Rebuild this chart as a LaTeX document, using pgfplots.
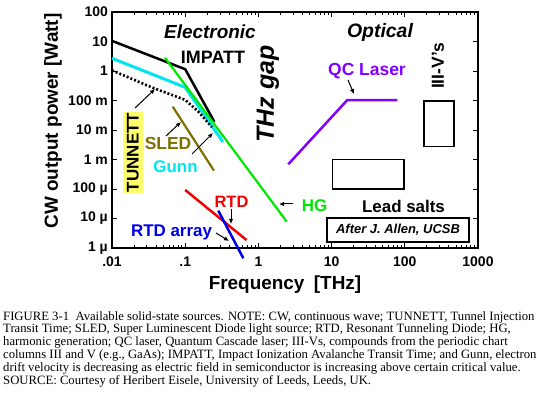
\documentclass[border=0pt]{standalone}
\usepackage{fontspec}
\setmainfont{Liberation Serif}
\setsansfont{Liberation Sans}
\usepackage{pgfplots}
\pgfplotsset{compat=1.18}
\usetikzlibrary{arrows.meta}
\definecolor{gunn}{RGB}{0,229,238}
\definecolor{hg}{RGB}{0,232,0}
\definecolor{sled}{RGB}{128,112,0}
\definecolor{rtd}{RGB}{240,0,0}
\definecolor{rtda}{RGB}{0,0,230}
\definecolor{qc}{RGB}{128,0,255}
\definecolor{tyel}{RGB}{255,255,110}
\newcommand{\fs}[1]{\fontsize{#1}{#1}\selectfont\sffamily\bfseries}
\begin{document}
\begin{tikzpicture}[arr/.style={-{Latex[length=5bp,width=4.5bp]}, line width=1bp, black}]
\begin{axis}[
  at={(0,0)}, anchor=south west,
  scale only axis, width=366bp, height=236bp,
  xmode=log, ymode=log,
  xmin=0.01, xmax=1000, ymin=1e-6, ymax=100,
  xtick={0.01,0.1,1,10,100,1000},
  xticklabels={.01,.1,1,10,100,1000},
  ytick={1e-6,1e-5,1e-4,1e-3,1e-2,1e-1,1,10,100},
  yticklabels={1 µ,10 µ,100 µ,1 m,10 m,100 m,1,10,100},
  yminorticks=false,
  tick align=inside,
  major tick length=5bp, minor tick length=3bp,
  axis line style={line width=1.3bp},
  every tick/.style={black, line width=0.9bp},
  tick label style={font=\fs{14}},
  xticklabel style={inner sep=0pt, yshift=-9bp},
  yticklabel style={inner sep=0pt, xshift=-4bp},
  /pgf/number format/assume math mode=true,
  clip=false,
]
% IMPATT
\addplot[black, line width=2.5bp, line join=round] coordinates {(0.01,10.5) (0.1,1.15) (0.25,0.019)};
% Gunn
\addplot[gunn, line width=3bp, line join=round] coordinates {(0.01,2.7) (0.1,0.28) (0.328,0.0039)};
% TUNNETT (dotted)
\addplot[black, line width=2.6bp, dash pattern=on 2bp off 2bp] coordinates {(0.01,1.05) (0.036,0.27) (0.1,0.105) (0.15,0.043) (0.232,0.0125)};
% HG
\addplot[hg, line width=2.2bp] coordinates {(0.053,2.8) (2.44,7.8e-6)};
% SLED
\addplot[sled, line width=2.2bp] coordinates {(0.0675,0.062) (0.247,4.2e-4)};
% RTD
\addplot[rtd, line width=2.5bp] coordinates {(0.1,9.3e-5) (0.69,1.85e-6)};
% RTD array
\addplot[rtda, line width=2.5bp] coordinates {(0.283,1.84e-5) (0.622,4.5e-7)};
% QC laser
\addplot[qc, line width=2.5bp, line join=round] coordinates {(2.56,6.9e-4) (16.4,0.104) (79,0.104)};
% III-Vs
\addplot[black, line width=1.3bp, line join=miter] coordinates {(183,0.096) (470,0.096) (470,0.0027) (183,0.0027)} -- cycle;
% Lead salts
\addplot[black, line width=1.3bp, line join=miter] coordinates {(10.4,1e-3) (97.5,1e-3) (97.5,1e-4) (10.4,1e-4)} -- cycle;
\end{axis}
% axis labels
\node[rotate=90, font=\fs{19}] at (-59bp,127bp) {CW output power [Watt]};
\node[anchor=base, font=\fs{19}] at (173bp,-41bp) {Frequency\hspace{0.5em}[THz]};
% text labels
\node[font=\fs{19}\itshape] at (98bp,216bp) {Electronic};
\node[font=\fs{18}] at (101bp,191bp) {IMPATT};
\node[font=\fs{19.5}\itshape] at (268bp,216bp) {Optical};
\node[font=\fs{17.5}, text=qc] at (255bp,177bp) {QC Laser};
\node[font=\fs{17.5}, rotate=90] at (326bp,182bp) {III-V's};
\node[font=\fs{25}\itshape, rotate=90] at (156bp,154bp) {THz gap};
\node[font=\fs{17}, rotate=90, fill=tyel, inner sep=1.2bp, minimum height=20bp, minimum width=81bp] at (21bp,95.5bp) {TUNNETT};
\node[font=\fs{17.5}, text=sled] at (56bp,105bp) {SLED};
\node[font=\fs{17}, text=gunn] at (63.5bp,81bp) {Gunn};
\node[font=\fs{16.5}, text=rtd] at (119.5bp,46bp) {RTD};
\node[font=\fs{17}, text=rtda] at (59.5bp,16bp) {RTD array};
\node[font=\fs{17}, text=hg] at (202.5bp,42bp) {HG};
\node[font=\fs{17}] at (291.5bp,42bp) {Lead salts};
\node[font=\fs{13}\itshape, draw, line width=1.1bp, minimum width=142bp, minimum height=24bp, inner sep=0pt] at (286bp,18bp) {After J. Allen, UCSB};
% arrows
\draw[arr] (23bp,140bp) -- (43bp,159bp);
\draw[arr] (54bp,112bp) -- (69bp,126bp);
\draw[arr] (80bp,94bp) -- (101bp,115bp);
\draw[arr] (119bp,39bp) -- (119bp,24bp);
\draw[arr] (104bp,15bp) -- (117bp,7bp);
\draw[arr] (181bp,44bp) -- (167bp,44bp);
\draw[arr] (236bp,168bp) -- (242bp,154bp);
% caption
\begin{scope}[every node/.style={anchor=base west, inner sep=0pt, font=\fontsize{12.75}{13}\selectfont\rmfamily}]
\node at (-109bp,-72bp) {FIGURE 3-1\hspace{0.5em}Available solid-state sources. NOTE: CW, continuous wave; TUNNETT, Tunnel Injection};
\node at (-109bp,-84.7bp) {Transit Time; SLED, Super Luminescent Diode light source; RTD, Resonant Tunneling Diode; HG,};
\node at (-109bp,-97.5bp) {harmonic generation; QC laser, Quantum Cascade laser; III-Vs, compounds from the periodic chart};
\node at (-109bp,-110.3bp) {columns III and V (e.g., GaAs); IMPATT, Impact Ionization Avalanche Transit Time; and Gunn, electron};
\node at (-109bp,-123bp) {drift velocity is decreasing as electric field in semiconductor is increasing above certain critical value.};
\node at (-109bp,-136bp) {SOURCE: Courtesy of Heribert Eisele, University of Leeds, Leeds, UK.};
\end{scope}
\pgfresetboundingbox
\path[use as bounding box] (-112bp,-150bp) rectangle (425bp,248bp);
\end{tikzpicture}
\end{document}
